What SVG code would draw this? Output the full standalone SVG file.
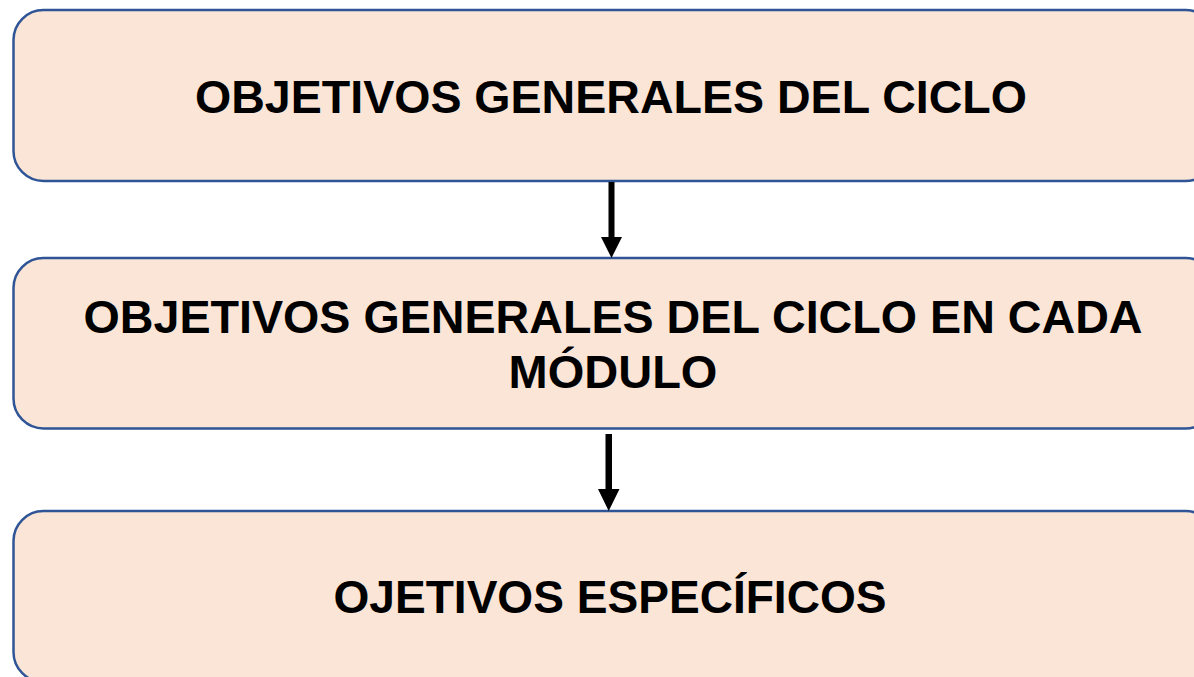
<svg xmlns="http://www.w3.org/2000/svg" width="1194" height="677" viewBox="0 0 1194 677">
  <defs>
    <style>
      .box { fill: #FBE5D6; stroke: #2F5597; stroke-width: 2.5; }
      .lbl { font-family: "Liberation Sans", Arial, sans-serif; font-weight: bold; font-size: 47px; fill: #000; text-anchor: middle; }
      .shaft { fill: #000; }
    </style>
  </defs>
  <rect width="1194" height="677" fill="#FFFFFF"/>
  <g id="node1">
    <rect class="box" x="13.5" y="10" width="1202" height="171" rx="30" ry="30"/>
    <text class="lbl" x="611" y="113" textLength="832" lengthAdjust="spacingAndGlyphs">OBJETIVOS GENERALES DEL CICLO</text>
  </g>
  <g id="node2">
    <rect class="box" x="13.5" y="258" width="1202" height="170.5" rx="30" ry="30"/>
    <text class="lbl" x="613" y="333" textLength="1059" lengthAdjust="spacingAndGlyphs">OBJETIVOS GENERALES DEL CICLO EN CADA</text>
    <text class="lbl" x="613" y="388">MÓDULO</text>
  </g>
  <g id="node3">
    <rect class="box" x="13.5" y="511" width="1202" height="171" rx="30" ry="30"/>
    <text class="lbl" x="610" y="613" textLength="553" lengthAdjust="spacingAndGlyphs">OJETIVOS ESPECÍFICOS</text>
  </g>
  <g id="connectors">
    <polygon class="shaft" points="608.5,182 614.5,182 614.5,237 622,237 611.5,258 601,237 608.5,237"/>
    <polygon class="shaft" points="605.5,434 612,434 612,489 619.5,489 608.7,511 598,489 605.5,489"/>
  </g>
</svg>
